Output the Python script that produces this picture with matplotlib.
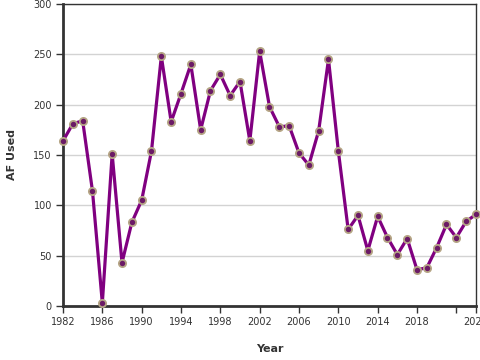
import matplotlib
matplotlib.use("Agg")
import matplotlib.pyplot as plt

years = list(range(1982, 2025))
af_used = [164, 181, 184, 114, 3, 151, 43, 83, 105, 154,
           248, 183, 211, 240, 175, 214, 230, 209, 223, 164,
           253, 198, 178, 179, 152, 140, 174, 245, 154, 76,
           90, 55, 89, 68, 51, 67, 36, 38, 58, 81,
           68, 84, 91]

xticks = [1982, 1986, 1990, 1994, 1998, 2002, 2006, 2010, 2014, 2018, 2022, 2024]
xticklabels = ["1982", "1986", "1990", "1994", "1998", "2002", "2006", "2010", "2014", "2018", "", "2024"]
yticks = [0, 50, 100, 150, 200, 250, 300]

fig = plt.figure(figsize=(4.8, 3.6), dpi=100)
ax = fig.add_axes([63/480, 1-306/360, (476-63)/480, (306-4)/360])

ax.plot(years, af_used, color="#800080", lw=2.3, zorder=3,
        marker="o", markersize=5.2, markerfacecolor="#6b1a66",
        markeredgecolor="#b5a585", markeredgewidth=1.3, clip_on=False)

ax.set_xlim(1982, 2024)
ax.set_ylim(0, 300)
ax.set_xticks(xticks)
ax.set_xticklabels(xticklabels)
ax.set_yticks(yticks)
ax.yaxis.grid(True, color="#d3d3d3", lw=1)
ax.set_axisbelow(True)
ax.tick_params(axis="both", labelsize=7, colors="#333333", length=5, width=1, pad=3)

for s in ["left", "bottom"]:
    ax.spines[s].set_linewidth(2)
    ax.spines[s].set_color("#333333")
for s in ["top", "right"]:
    ax.spines[s].set_linewidth(1)
    ax.spines[s].set_color("#333333")

ax.set_xlabel("Year", fontsize=8, fontweight="bold", color="#333333", labelpad=12)
ax.set_ylabel("AF Used", fontsize=8, fontweight="bold", color="#333333", labelpad=12)

fig.savefig("out.png", dpi=100)
